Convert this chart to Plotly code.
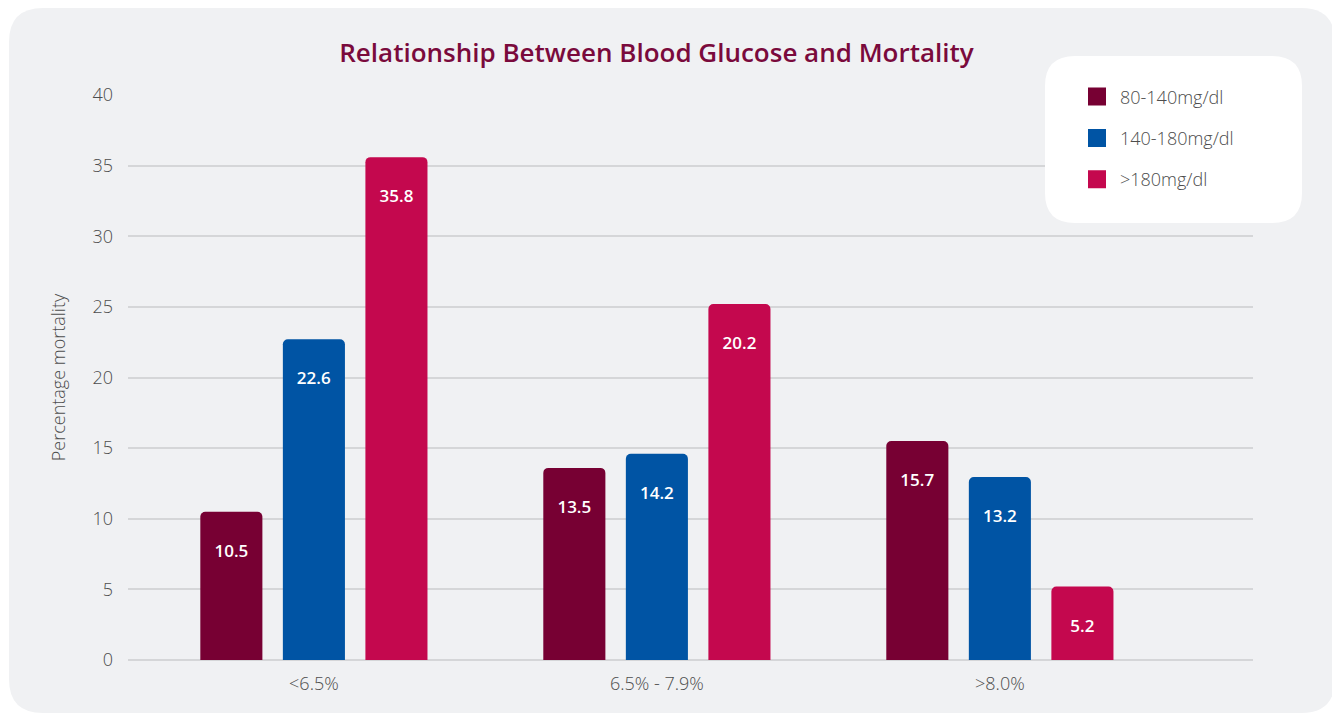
import plotly.graph_objects as go

categories = ["<6.5%", "6.5% - 7.9%", ">8.0%"]
series_names = ["80-140mg/dl", "140-180mg/dl", ">180mg/dl"]
# bar heights as drawn
heights_80_140 = [10.5, 13.6, 15.5]
heights_140_180 = [22.7, 14.6, 12.95]
heights_180_plus = [35.6, 25.2, 5.2]
# value labels as printed on the bars
labels_80_140 = ["10.5", "13.5", "15.7"]
labels_140_180 = ["22.6", "14.2", "13.2"]
labels_180_plus = ["35.8", "20.2", "5.2"]
colors = ["#770033", "#0054a4", "#c4084e"]

OFF = 8  # page body margin
W, H = 1340 - OFF, 715 - OFF
ML, MT = 128 - OFF, 94.7 - OFF
PW, PH = 1125, 565.6
MR, MB = W - ML - PW, H - MT - PH

FONT = "Open Sans"
GREY = "#4d4d4d"

fig = go.Figure()
for name, h, lab, col in zip(series_names,
                             [heights_80_140, heights_140_180, heights_180_plus],
                             [labels_80_140, labels_140_180, labels_180_plus],
                             colors):
    fig.add_trace(go.Bar(
        x=categories, y=h, name=name, marker_color=col, marker_line_width=0,
        text=["\u00a0<br>" + t for t in lab], textposition="inside", insidetextanchor="end",
        textfont=dict(family=FONT, size=17, color="white", weight=600),
        showlegend=False, hoverinfo="skip", cliponaxis=False,
    ))
    fig.add_trace(go.Scatter(
        x=[None], y=[None], mode="markers", name=name, legendgroup=name,
        marker=dict(symbol="square", size=16, color=col, line=dict(width=2, color=col)),
        showlegend=True,
    ))

def px2paper_x(px):
    return (px - OFF - ML) / PW

def px2paper_y(py):
    return (MT + PH - (py - OFF)) / PH

def rrect(w, h, r):
    x0, x1, y0, y1 = -w / 2, w / 2, -h / 2, h / 2
    return (f"M{x0 + r},{y0} L{x1 - r},{y0} Q{x1},{y0} {x1},{y0 + r} "
            f"L{x1},{y1 - r} Q{x1},{y1} {x1 - r},{y1} L{x0 + r},{y1} "
            f"Q{x0},{y1} {x0},{y1 - r} L{x0},{y0 + r} Q{x0},{y0} {x0 + r},{y0} Z")

shapes = [
    dict(type="path", xref="paper", yref="paper", xsizemode="pixel", ysizemode="pixel",
         xanchor=px2paper_x(672), yanchor=px2paper_y(360.5), path=rrect(1326, 705, 34),
         fillcolor="#f0f1f3", line_width=0, layer="below"),
    dict(type="path", xref="paper", yref="paper", xsizemode="pixel", ysizemode="pixel",
         xanchor=px2paper_x(1173.5), yanchor=px2paper_y(139.2), path=rrect(257, 167, 30),
         fillcolor="white", line_width=0, layer="above"),
]

fig.update_layout(
    width=W, height=H,
    margin=dict(l=ML, r=MR, t=MT, b=MB, pad=0),
    paper_bgcolor="white", plot_bgcolor="rgba(0,0,0,0)",
    font=dict(family=FONT, color=GREY),
    title=dict(text="Relationship Between Blood Glucose and Mortality",
               x=(656.5 - OFF) / W, xref="container", xanchor="center",
               y=1 - (53 - OFF) / H, yref="container", yanchor="middle",
               font=dict(family=FONT, size=26, color="#7a0a3c", weight=600)),
    barmode="group", bargap=0.278, bargroupgap=0.248, barcornerradius=5,
    xaxis=dict(range=[-0.542, 2.738], showgrid=False, zeroline=False, showline=False,
               ticks="", ticklabelstandoff=11,
               tickfont=dict(size=18, color=GREY, weight=300)),
    yaxis=dict(range=[0, 40], dtick=5, showgrid=True, gridcolor="#d5d6d8", gridwidth=1.5,
               zeroline=True, zerolinecolor="#d5d6d8", zerolinewidth=1.5,
               showline=False, ticks="", ticklabelstandoff=14,
               tickfont=dict(size=18, color=GREY, weight=300),
               title=dict(text="Percentage mortality", standoff=22,
                          font=dict(size=18, color=GREY, weight=300))),
    legend=dict(x=px2paper_x(1074), y=px2paper_y(78), xanchor="left", yanchor="top",
                bgcolor="rgba(0,0,0,0)", borderwidth=0, tracegroupgap=15,
                itemwidth=36,
                font=dict(size=18, color=GREY, weight=300), itemsizing="trace"),
    shapes=shapes,
)

fig.write_html("out.html")
